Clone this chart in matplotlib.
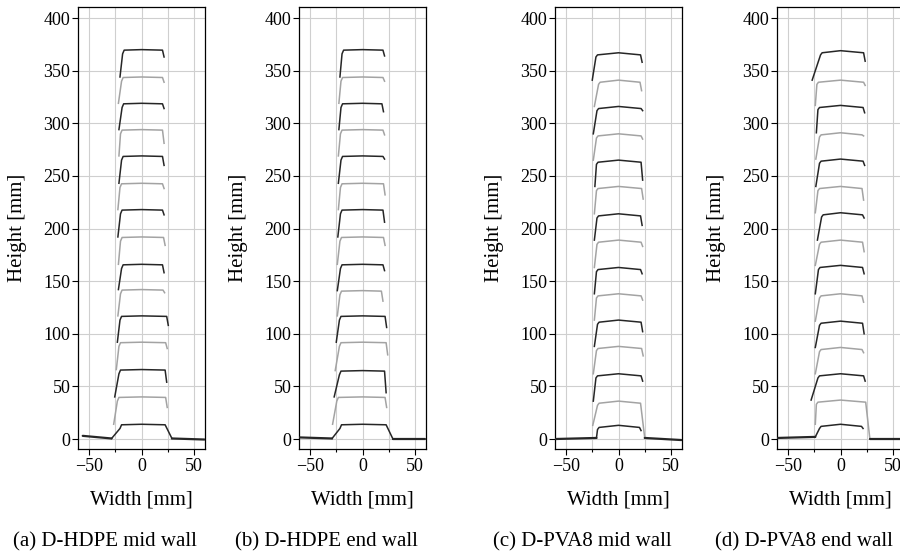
import matplotlib
matplotlib.use("Agg")
import matplotlib.pyplot as plt
from matplotlib.ticker import MultipleLocator

plt.rcParams["font.family"] = ["Liberation Serif", "DejaVu Serif"]

captions = ["(a) D-HDPE mid wall", "(b) D-HDPE end wall",
            "(c) D-PVA8 mid wall", "(d) D-PVA8 end wall"]

# Scanned layer profiles, bottom layer first (all values in mm).
# top   : crest height at the wall centre
# left  : x of the upper-left shoulder
# foot  : x where the left face meets the layer below
# right : x where the crest ends on the right
# end   : lowest height reached by the right-hand edge
a_top = [14, 40, 66, 92, 117, 142, 166, 192, 218, 243, 269, 294, 319, 344, 370]
a_left = [-20.5, -23, -21.5, -21.5, -20.5, -20, -19, -20, -20, -20.5, -19, -20, -18.5, -19, -18]
a_foot = [-28.5, -26.5, -25.5, -24, -23, -22.5, -22, -22, -22.5, -22.5, -21.5, -21.5, -21.5, -22, -20.5]
a_right = [22.5, 23, 22.5, 23, 24, 20.5, 20, 21, 20, 20, 20, 20, 20, 20, 20]
a_end = [0, 30, 54, 86, 108, 139, 158, 184, 213, 238, 260, 281, 314, 339, 363]
a_ground_x = [-56, -28.5, 29, 60]
a_ground_y = [3, 0.5, 0.5, -0.5]

b_top = [14, 40, 65, 92, 117, 141, 166, 192, 218, 243, 269, 294, 319, 344, 370]
b_left = [-21.5, -24.5, -22, -22, -22, -21.5, -21, -21.5, -21, -21, -20.5, -21, -20.5, -20.5, -19.5]
b_foot = [-29, -28.5, -27, -26, -25, -24, -24, -24, -23.5, -23, -23, -23, -22.5, -22.5, -21.5]
b_right = [22.5, 21.5, 21, 22.5, 21.5, 18, 19.5, 20, 19.5, 20, 19.5, 19.5, 18.5, 19.5, 19.5]
b_end = [0, 30, 44, 80, 106, 131, 160, 184, 206, 232, 266, 289, 311, 340, 364]
b_ground_x = [-60, -29, 29, 60]
b_ground_y = [1.5, 0.5, 0, 0]

c_top = [13, 36, 62, 88, 113, 138, 163, 189, 214, 240, 265, 290, 316, 341, 367]
c_left = [-20, -20, -21.5, -21, -20, -21, -21, -20.5, -20.5, -21, -21, -21, -20.5, -19, -21.5]
c_foot = [-21, -24.5, -24, -24, -23, -23, -23, -23, -23, -23, -22.5, -24, -24, -23, -25]
c_right = [20, 21, 21.5, 22, 21.5, 21.5, 21, 21.5, 21, 22, 21.5, 21.5, 21.5, 20.5, 21]
c_end = [8, 1, 55, 79, 102, 132, 157, 183, 203, 228, 246, 285, 312, 331, 358]
c_ground_x = [-60, -21, 25, 60]
c_ground_y = [0, 1, 1, -1]

d_top = [14, 37, 62, 87, 112, 138, 165, 189, 215, 240, 266, 291, 317, 341, 369]
d_left = [-20, -23, -21.5, -20, -20, -20, -21, -20, -18, -21.5, -20, -20, -21.5, -22.5, -19]
d_foot = [-24, -24, -28, -24, -24, -24, -24, -24, -22, -24, -23.5, -23.5, -23, -24, -27]
d_right = [20, 24, 22, 20.5, 21, 20.5, 21, 21, 21, 20.5, 21.5, 20.5, 21.5, 22, 22]
d_end = [10, 1, 55, 82, 100, 130, 157, 178, 210, 227, 260, 288, 310, 336, 359]
d_ground_x = [-60, -24, 28, 60]
d_ground_y = [1, 2, 0, 0]

# crest curvature (centre minus shoulder height)
crowns = [0.5, 0.5, 2.0, 2.0]

panels = [
    (a_top, a_left, a_foot, a_right, a_end, a_ground_x, a_ground_y),
    (b_top, b_left, b_foot, b_right, b_end, b_ground_x, b_ground_y),
    (c_top, c_left, c_foot, c_right, c_end, c_ground_x, c_ground_y),
    (d_top, d_left, d_foot, d_right, d_end, d_ground_x, d_ground_y),
]

DARK = "#262626"
LIGHT = "#a3a3a3"

fig = plt.figure(figsize=(9, 5.56), dpi=100)
W, H = 900.0, 556.0
axes_left_px = [78, 299, 555, 777]
ax_w, ax_h, ax_b = 127, 442, 107

for k, (top, left, foot, right, end, gx, gy) in enumerate(panels):
    lp = axes_left_px[k]
    ax = fig.add_axes([lp / W, ax_b / H, ax_w / W, ax_h / H])
    crown = crowns[k]

    # substrate on both sides of the wall
    ax.plot(gx[:2], gy[:2], color=DARK, lw=1.6, solid_capstyle="round", zorder=3)
    ax.plot(gx[2:], gy[2:], color=DARK, lw=1.6, solid_capstyle="round", zorder=3)

    for i in range(len(top)):
        ybot = gy[1] if i == 0 else top[i - 1]
        xs = [foot[i], left[i], left[i] + 1.5, 0.0, right[i]]
        ys = [ybot, top[i] - 4, top[i] - crown, top[i], top[i] - crown]
        if end[i] <= 1:
            xs.append(gx[2])
            ys.append(gy[2])
        else:
            xs.append(right[i] + 1.5)
            ys.append(end[i])
        col = DARK if i % 2 == 0 else LIGHT
        ax.plot(xs, ys, color=col, lw=1.1, zorder=3 if i % 2 == 0 else 2)

    ax.set_xlim(-60.5, 60.5)
    ax.set_ylim(-9.5, 410.5)
    ax.xaxis.set_major_locator(MultipleLocator(50))
    ax.xaxis.set_minor_locator(MultipleLocator(25))
    ax.yaxis.set_major_locator(MultipleLocator(50))
    ax.grid(True, which="both", axis="x", color="#cfcfcf", lw=0.8, zorder=0)
    ax.grid(True, which="major", axis="y", color="#cfcfcf", lw=0.8, zorder=0)
    ax.set_axisbelow(True)
    ax.tick_params(which="major", direction="out", length=4, width=0.8,
                   labelsize=13, top=False, right=False)
    ax.tick_params(axis="y", which="major", pad=1.5)
    ax.tick_params(axis="x", which="major", pad=2.5)
    ax.tick_params(which="minor", direction="out", length=2.5, width=0.8,
                   top=False, right=False)
    for sp in ax.spines.values():
        sp.set_linewidth(0.9)
        sp.set_color("black")

    ax.set_xlabel("Width [mm]", fontsize=15)
    ax.xaxis.set_label_coords(0.5, -0.095)
    ax.set_ylabel("Height [mm]", fontsize=15)
    ax.yaxis.set_label_coords(-0.405, 0.5)

    fig.text((lp + 27) / W, 14.3 / H, captions[k], fontsize=15,
             ha="center", va="center")

fig.savefig("out.png", dpi=100)
